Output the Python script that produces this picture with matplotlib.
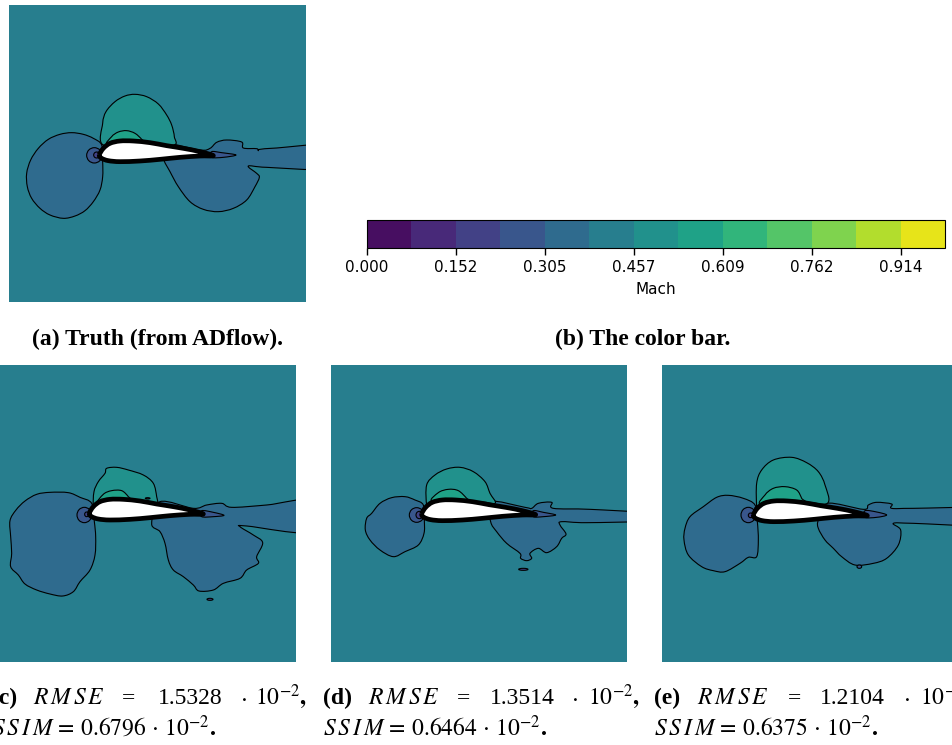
import matplotlib
matplotlib.use("Agg")
import matplotlib.pyplot as plt
import numpy as np
from matplotlib.cm import ScalarMappable
from matplotlib.colors import BoundaryNorm, ListedColormap
from matplotlib.patches import Ellipse, PathPatch
from matplotlib.path import Path

plt.rcParams["mathtext.fontset"] = "stix"

W, H = 952, 745
SERIF = "Liberation Serif"

# Mach levels of the colour bar
levels = [0.0, 0.0762, 0.1523, 0.2285, 0.3047, 0.3808, 0.4570, 0.5332,
          0.6093, 0.6855, 0.7617, 0.8378, 0.9140, 0.9902]
tick_values = [0.0, 0.1523, 0.3047, 0.4570, 0.6093, 0.7617, 0.9140]
tick_labels = ["0.000", "0.152", "0.305", "0.457", "0.609", "0.762", "0.914"]

# Mach value of each region
M_FIELD = 0.42
M_LOW = 0.34
M_LOWER = 0.27
M_LOWEST = 0.19
M_HIGH = 0.49
M_HIGHER = 0.57

# airfoil outline, traced on panel a
airfoil = [(298, 225), (310, 205), (330, 190), (360, 183), (400, 183), (450, 188),
           (500, 197), (550, 205), (600, 215), (640, 227), (600, 228), (540, 232),
           (480, 238), (420, 243), (360, 245), (325, 242), (305, 235)]

# panel a: truth
a_left = [(305, 195), (280, 175), (250, 163), (215, 158), (180, 163), (145, 178), (115, 205),
          (92, 240), (80, 280), (82, 320), (95, 355), (120, 385), (150, 405), (190, 415),
          (225, 408), (255, 392), (280, 365), (300, 330), (308, 290), (308, 245)]
a_right = [(490, 235), (510, 275), (535, 320), (570, 365), (610, 388), (655, 395), (700, 385),
           (740, 360), (765, 320), (778, 292), (770, 280), (745, 258), (800, 262), (970, 264),
           (970, 198), (830, 204), (780, 208), (775, 212), (770, 206), (730, 204), (725, 186),
           (680, 180), (650, 187), (630, 205), (600, 210), (490, 190)]
a_up = [(310, 195), (308, 130), (318, 95), (345, 65), (375, 48), (405, 43), (440, 50), (475, 72),
        (500, 105), (515, 135), (523, 170), (520, 195), (420, 185)]
a_up_in = [(325, 195), (335, 170), (355, 156), (380, 152), (405, 160), (425, 178), (430, 190)]
a_tip = [(635, 215), (665, 218), (708, 225), (670, 232), (635, 232)]
a_blobs = [(283, 226, 46, 46, M_LOWER), (290, 225, 18, 18, M_LOWEST)]

# panel c
c_left = [(275, 160), (240, 142), (205, 128), (150, 127), (110, 133), (75, 153), (48, 180),
          (30, 212), (32, 260), (35, 310), (32, 350), (55, 375), (75, 402), (110, 420),
          (150, 432), (188, 438), (220, 425), (240, 395), (270, 360), (285, 315), (287, 260),
          (283, 215)]
c_right = [(455, 222), (480, 245), (495, 280), (505, 330), (520, 360), (550, 380), (580, 405),
           (597, 423), (640, 420), (670, 400), (720, 385), (740, 360), (775, 340), (770, 320),
           (788, 278), (760, 255), (720, 230), (740, 228), (940, 246), (940, 152), (800, 165),
           (695, 172), (665, 160), (620, 165), (580, 175), (480, 155)]
c_up = [(280, 170), (282, 125), (295, 95), (315, 70), (320, 55), (350, 52), (385, 60), (430, 75),
        (460, 100), (470, 140), (470, 160), (430, 155), (290, 170)]
c_up_in = [(298, 160), (310, 133), (335, 122), (365, 122), (385, 140), (392, 155)]
c_tip = [(605, 182), (640, 187), (672, 196), (640, 200), (605, 200)]
c_blobs = [(253, 195, 44, 46, M_LOWER), (260, 193, 12, 14, M_LOWEST),
           (630, 448, 18, 6, M_LOWEST), (443, 145, 14, 4, M_LOWEST)]

# panel d
d_left = [(280, 165), (255, 150), (225, 140), (185, 143), (150, 160), (125, 190), (110, 205),
          (106, 240), (120, 270), (150, 300), (190, 320), (225, 305), (265, 285), (282, 250),
          (283, 212)]
d_right = [(482, 215), (500, 245), (530, 280), (570, 310), (572, 325), (590, 332), (605, 325),
           (600, 310), (625, 295), (650, 308), (680, 290), (695, 265), (708, 252), (690, 225),
           (695, 215), (770, 218), (960, 212), (960, 190), (780, 178), (670, 175), (665, 157),
           (625, 160), (605, 175), (585, 172), (480, 155)]
d_up = [(290, 165), (290, 105), (315, 75), (350, 57), (390, 52), (430, 65), (465, 95), (480, 130),
        (495, 160), (440, 155), (300, 165)]
d_up_in = [(308, 155), (325, 128), (355, 118), (385, 122), (410, 145), (415, 155)]
d_tip = [(610, 182), (640, 187), (677, 195), (640, 200), (610, 200)]
d_blobs = [(260, 195, 44, 44, M_LOWER), (268, 195, 20, 22, M_LOWEST),
           (580, 358, 28, 6, M_LOWEST)]

# panel e
e_left = [(285, 195), (250, 175), (205, 166), (170, 172), (130, 200), (90, 230), (75, 265),
          (72, 300), (85, 345), (125, 380), (160, 392), (195, 395), (240, 370), (265, 352),
          (290, 350), (295, 300), (292, 245)]
e_right = [(475, 240), (475, 265), (495, 300), (520, 325), (545, 350), (585, 375), (640, 370),
           (680, 355), (715, 315), (722, 270), (700, 250), (760, 250), (960, 254), (960, 206),
           (760, 205), (695, 205), (695, 192), (650, 187), (625, 195), (610, 208), (500, 190)]
e_up = [(290, 200), (290, 130), (305, 90), (340, 60), (395, 52), (440, 68), (475, 95), (495, 135),
        (502, 190), (420, 185), (295, 200)]
e_up_in = [(305, 195), (315, 165), (340, 145), (375, 140), (410, 150), (425, 175), (430, 190)]
e_tip = [(615, 212), (650, 216), (680, 225), (650, 232), (615, 232)]
e_blobs = [(265, 225, 44, 46, M_LOWER), (272, 226, 14, 14, M_LOWEST),
           (598, 380, 14, 10, M_LOWER)]

cmap = ListedColormap(plt.get_cmap("viridis")((np.arange(13) + 0.5) / 13))
norm = BoundaryNorm(levels, 13)

fig = plt.figure(figsize=(W / 100, H / 100), dpi=100)


def px_axes(left, top, right, bottom):
    return fig.add_axes([left / W, 1 - bottom / H, (right - left) / W, (bottom - top) / H])


def smooth_patch(pts, fc, ec="black", lw=0.8):
    # closed spline through the traced points
    pts = np.array(pts, dtype=float)
    verts = [pts[0]]
    codes = [Path.MOVETO]
    n = len(pts)
    for i in range(n):
        p0, p1, p2, p3 = pts[i - 1], pts[i], pts[(i + 1) % n], pts[(i + 2) % n]
        verts += [p1 + (p2 - p0) / 6, p2 - (p3 - p1) / 6, p2]
        codes += [Path.CURVE4, Path.CURVE4, Path.CURVE4]
    return PathPatch(Path(verts, codes), facecolor=fc, edgecolor=ec, linewidth=lw,
                     joinstyle="round")


def draw_panel(rect, zoom_origin, regions, tip, blobs, shift):
    left, top, right, bottom = rect
    ax = px_axes(left, top, right, bottom)
    ax.set_xlim((left - zoom_origin[0]) * 3, (right - zoom_origin[0]) * 3)
    ax.set_ylim((bottom - zoom_origin[1]) * 3, (top - zoom_origin[1]) * 3)
    ax.set_facecolor(cmap(norm(M_FIELD)))
    ax.set_xticks([])
    ax.set_yticks([])
    for s in ax.spines.values():
        s.set_visible(False)
    for pts, mach in regions:
        ax.add_patch(smooth_patch(pts, cmap(norm(mach))))
    for cx, cy, w, h, mach in blobs:
        ax.add_patch(Ellipse((cx, cy), w, h, facecolor=cmap(norm(mach)),
                             edgecolor="black", linewidth=0.8))
    ax.add_patch(smooth_patch(tip, cmap(norm(M_LOWER))))
    foil = [(x + shift[0], y + shift[1]) for x, y in airfoil]
    ax.add_patch(smooth_patch(foil, "white", lw=3.4))
    return ax


draw_panel((9, 5, 306, 302), (0, 80),
           [(a_left, M_LOW), (a_right, M_LOW), (a_up, M_HIGH), (a_up_in, M_HIGHER)],
           a_tip, a_blobs, (0, 0))
draw_panel((-1, 365, 296, 662), (0, 450),
           [(c_left, M_LOW), (c_right, M_LOW), (c_up, M_HIGH), (c_up_in, M_HIGHER)],
           c_tip, c_blobs, (-30, -35))
draw_panel((331, 365, 627, 662), (330, 450),
           [(d_left, M_LOW), (d_right, M_LOW), (d_up, M_HIGH), (d_up_in, M_HIGHER)],
           d_tip, d_blobs, (-23, -33))
draw_panel((662, 365, 958, 662), (660, 440),
           [(e_left, M_LOW), (e_right, M_LOW), (e_up, M_HIGH), (e_up_in, M_HIGHER)],
           e_tip, e_blobs, (-18, 0))

# colour bar
cax = px_axes(367, 220, 945, 248)
cb = fig.colorbar(ScalarMappable(norm=norm, cmap=cmap), cax=cax, orientation="horizontal",
                  ticks=tick_values, spacing="proportional")
cb.ax.set_xticklabels(tick_labels)
cb.ax.tick_params(labelsize=11, length=5, width=1)
cb.ax.minorticks_off()
cb.set_label("Mach", fontsize=11, labelpad=5)


def put(x, y, s, **kw):
    fig.text(x / W, 1 - y / H, s, va="baseline", ha="left", family=SERIF, fontsize=17, **kw)


put(32, 345, "(a) Truth (from ADflow).", weight="bold")
put(555, 345, "(b) The color bar.", weight="bold")

rows = [
    ("(c)", -9, 33, 122, 158, 240, 255, "1.5328"),
    ("(d)", 323, 368, 457, 490, 571, 588, "1.3514"),
    ("(e)", 654, 697, 788, 820, 903, 920, "1.2104"),
]
for lab, x0, x1, x2, x3, x4, x5, rmse in rows:
    put(x0, 704, lab, weight="bold")
    put(x1, 704, r"$R\,M\,S\,E$")
    put(x2, 704, "=")
    put(x3, 704, rmse)
    put(x4, 704, r"$\cdot$")
    put(x5, 704, r"$10^{-2}\mathbf{,}$")

put(-8, 736, r"$S\,S\,I\,M\,=\,0.6796\,\cdot\,10^{-2}\mathbf{.}$")
put(323, 736, r"$S\,S\,I\,M\,=\,0.6464\,\cdot\,10^{-2}\mathbf{.}$")
put(654, 736, r"$S\,S\,I\,M\,=\,0.6375\,\cdot\,10^{-2}\mathbf{.}$")

fig.savefig("out.png", dpi=100)
